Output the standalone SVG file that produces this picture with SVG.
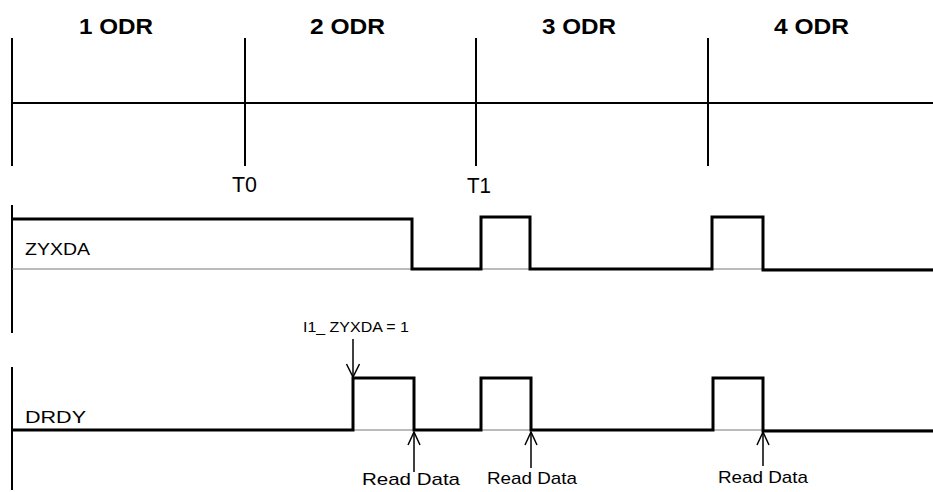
<svg xmlns="http://www.w3.org/2000/svg" width="933" height="492" viewBox="0 0 933 492">
<style>
.t{font-family:"Liberation Sans",Arial,sans-serif;fill:#000}
.hd{font-weight:bold;font-size:22px}
.ax{stroke:#000;stroke-width:2;fill:none}
.sig{stroke:#000;stroke-width:3;fill:none;stroke-linejoin:miter}
.base{stroke:#777;stroke-width:1;fill:none}
.arr{stroke:#000;stroke-width:1.5;fill:none}
</style>
<rect width="933" height="492" fill="#fff"/>
<g id="headers">
<text class="t hd" x="79" y="34" textLength="74" lengthAdjust="spacingAndGlyphs">1 ODR</text>
<text class="t hd" x="310" y="34" textLength="75" lengthAdjust="spacingAndGlyphs">2 ODR</text>
<text class="t hd" x="542" y="34" textLength="74" lengthAdjust="spacingAndGlyphs">3 ODR</text>
<text class="t hd" x="774" y="34" textLength="75" lengthAdjust="spacingAndGlyphs">4 ODR</text>
</g>
<g id="timeline">
<line class="ax" x1="12" y1="103" x2="933" y2="103"/>
<line class="ax" x1="12" y1="38" x2="12" y2="166"/>
<line class="ax" x1="245" y1="38" x2="245" y2="166"/>
<line class="ax" x1="476" y1="38" x2="476" y2="166"/>
<line class="ax" x1="708" y1="38" x2="708" y2="166"/>
<text class="t" x="232" y="192" font-size="22" textLength="25" lengthAdjust="spacingAndGlyphs">T0</text>
<text class="t" x="467" y="193" font-size="22" textLength="24" lengthAdjust="spacingAndGlyphs">T1</text>
</g>
<g id="zyxda">
<line class="ax" x1="12" y1="205" x2="12" y2="333"/>
<line class="base" x1="12" y1="269" x2="933" y2="269"/>
<polyline class="sig" points="12,219 412,219 412,269 481,269 481,217 530,217 530,269 712,269 712,217 763,217 763,270 933,270"/>
<text class="t" x="25" y="255" font-size="17" textLength="65" lengthAdjust="spacingAndGlyphs">ZYXDA</text>
</g>
<g id="drdy">
<line class="ax" x1="12" y1="367" x2="12" y2="490"/>
<line class="base" x1="12" y1="430" x2="933" y2="430"/>
<polyline class="sig" points="12,430 353,430 353,378 414,378 414,430 481,430 481,378 531,378 531,430 713,430 713,378 763,378 763,431 933,431"/>
<text class="t" x="25" y="423" font-size="17" textLength="61" lengthAdjust="spacingAndGlyphs">DRDY</text>
</g>
<g id="connectors">
<g id="int-arrow">
<line class="arr" x1="353" y1="339" x2="353" y2="377"/>
<polyline class="arr" points="346.5,364 353,377 359.5,364"/>
</g>
<g id="read1">
<line class="arr" x1="414" y1="432" x2="414" y2="472"/>
<polyline class="arr" points="408,445 414,432 420,445"/>
</g>
<g id="read2">
<line class="arr" x1="531" y1="432" x2="531" y2="468"/>
<polyline class="arr" points="525,445 531,432 537,445"/>
</g>
<g id="read3">
<line class="arr" x1="763" y1="432" x2="763" y2="466"/>
<polyline class="arr" points="757,445 763,432 769,445"/>
</g>
</g>
<g id="labels">
<text class="t" x="303" y="332" font-size="14" textLength="106" lengthAdjust="spacingAndGlyphs">I1_ ZYXDA = 1</text>
<text class="t" x="362" y="485" font-size="17" textLength="98" lengthAdjust="spacingAndGlyphs">Read Data</text>
<text class="t" x="487" y="484" font-size="17" textLength="90" lengthAdjust="spacingAndGlyphs">Read Data</text>
<text class="t" x="718" y="483" font-size="17" textLength="90" lengthAdjust="spacingAndGlyphs">Read Data</text>
</g>
</svg>
